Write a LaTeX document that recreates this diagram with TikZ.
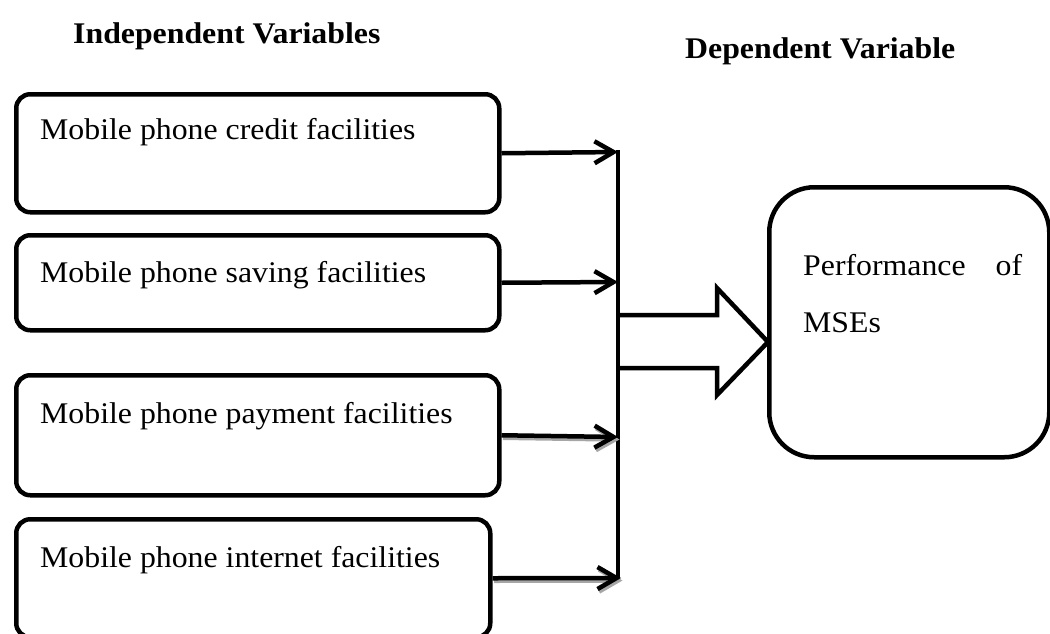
\documentclass[tikz,border=0pt]{standalone}
\usepackage{fontspec}
\setmainfont[FakeStretch=1.06]{Liberation Serif}
\usetikzlibrary{arrows.meta}
\begin{document}
\begin{tikzpicture}[x=1pt,y=-1pt,
  box/.style={draw, line width=4.5pt, rounded corners=14pt, inner sep=0pt, anchor=north west},
  bigbox/.style={draw, line width=4.5pt, rounded corners=45pt, inner sep=0pt, anchor=north west},
  lbl/.style={anchor=base west, inner sep=0pt, font=\fontsize{30}{36}\selectfont},
  head/.style={anchor=base west, inner sep=0pt, font=\fontsize{30}{36}\selectfont\bfseries},
  conn/.style={line width=4.5pt, line join=round, -{Straight Barb[length=19pt,width=22pt]}},
  shade/.style={line width=4.5pt, draw=black!35, -{Straight Barb[length=19pt,width=22pt]}},
  bus/.style={line width=4.5pt},
  block/.style={line width=4.5pt, line join=miter}]
\useasboundingbox (0,0) rectangle (1050,633);
\clip (0,0) rectangle (1050,633);

% headings
\node[head] (hind) at (73,43) {Independent Variables};
\node[head] (hdep) at (685,58) {Dependent Variable};

% independent variable boxes
\node[box, minimum width=483pt, minimum height=118pt] (box1) at (14,92) {};
\node[box, minimum width=483pt, minimum height=95pt] (box2) at (14,233) {};
\node[box, minimum width=483pt, minimum height=120pt] (box3) at (14,373) {};
\node[box, minimum width=474pt, minimum height=118pt] (box4) at (14,517) {};

\node[lbl] (t1) at (40,139) {Mobile phone credit facilities};
\node[lbl] (t2) at (40,282) {Mobile phone saving facilities};
\node[lbl] (t3) at (40,423) {Mobile phone payment facilities};
\node[lbl] (t4) at (40,567) {Mobile phone internet facilities};

% dependent variable box
\node[bigbox, minimum width=280pt, minimum height=270pt] (perf) at (767,185) {};
\node[lbl] (p1) at (803,275) {\makebox[219pt][s]{Performance of}};
\node[lbl] (p2) at (803,332) {MSEs};

% bus
\coordinate (bustop) at (618,150);
\coordinate (busbot) at (618,578);
\coordinate (j1) at (618,152);
\coordinate (j2) at (618,282);
\coordinate (j3) at (618,437);
\coordinate (j4) at (621,578);
\draw[bus] (bustop) -- (busbot);

% connectors
\draw[conn] (box1.east) -- (j1);
\draw[conn] (box2.east) -- (j2);
\draw[shade, transform canvas={shift={(1.5pt,-2.5pt)}}] (box3.east) -- (j3);
\draw[conn] (box3.east) -- (j3);
\draw[shade, transform canvas={shift={(1.5pt,-2.5pt)}}] (box4.east) -- (j4);
\draw[conn] (box4.east) -- (j4);

% block arrow
\coordinate (bs1) at (618,315);
\coordinate (bs2) at (618,368);
\coordinate (btip) at (768,342);
\draw[block] (bs1) -- (717,315) -- (717,288) -- (btip) -- (717,395) -- (717,368) -- (bs2);
\end{tikzpicture}
\end{document}
